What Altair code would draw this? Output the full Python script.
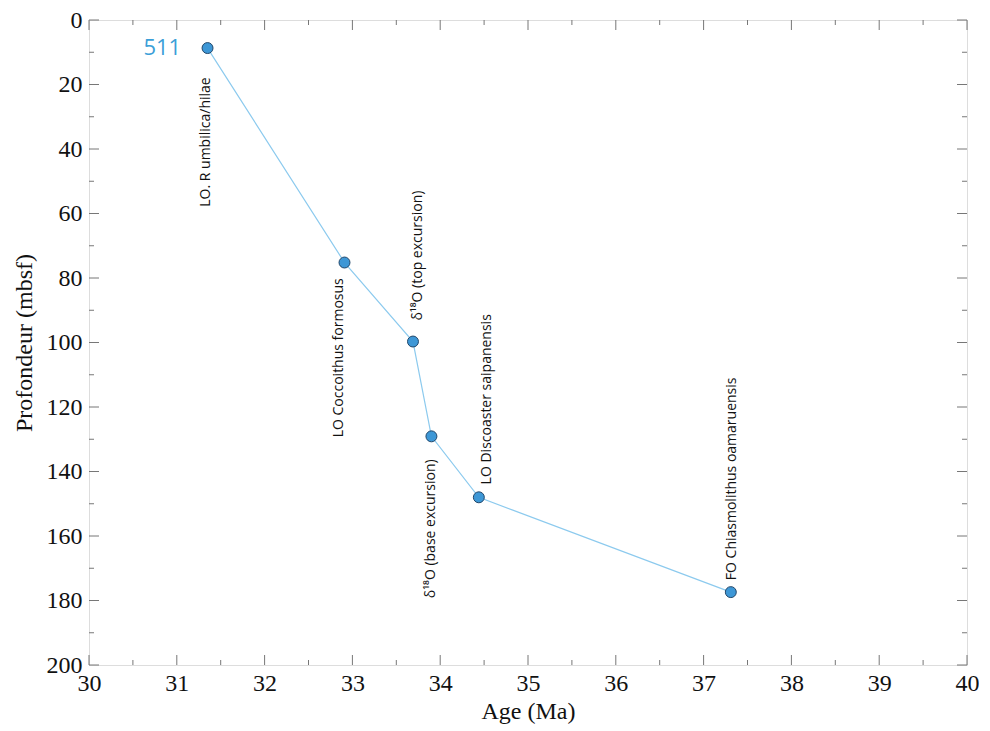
import altair as alt
import pandas as pd

# --- data ---
ages = [31.35, 32.91, 33.69, 33.90, 34.44, 37.31]
depths = [8.7, 75.2, 99.7, 129.1, 148.0, 177.4]

label_texts = [
    "LO. R umbilica/hilae",
    "LO Coccoithus formosus",
    "δ¹⁸O (top excursion)",
    "δ¹⁸O (base excursion)",
    "LO Discoaster saipanensis",
    "FO Chiasmolithus oamaruensis",
]
label_ages = [31.33, 32.85, 33.75, 33.90, 34.53, 37.32]
label_depths = [57.9, 129.4, 93.2, 179.3, 144.0, 173.7]

site_label = ["511"]
site_age = [31.05]
site_depth = [8.7]

x_major = list(range(30, 41))
x_minor = [30.5 + i for i in range(10)]
y_major = list(range(0, 201, 20))
y_minor = list(range(10, 200, 20))

W, H = 878, 645
MAJ, MIN = 10, 5

pts = pd.DataFrame({"age": ages, "depth": depths})
lbl = pd.DataFrame({"age": label_ages, "depth": label_depths, "text": label_texts})
site = pd.DataFrame({"age": site_age, "depth": site_depth, "text": site_label})

xs = alt.Scale(domain=[30, 40], nice=False, zero=False)
ys = alt.Scale(domain=[0, 200], nice=False, zero=False, reverse=True)

xaxis = alt.Axis(values=x_major, tickSize=0, domain=False, grid=False, format="d",
                 labelFont="Liberation Serif", labelFontSize=24, labelColor="#111",
                 labelPadding=6, labelFlush=False, labelOverlap=False,
                 titleFont="Liberation Serif", titleFontSize=24, titleFontWeight="normal",
                 titleColor="#111", titlePadding=4)
yaxis = alt.Axis(values=y_major, tickSize=0, domain=False, grid=False, format="d",
                 labelFont="Liberation Serif", labelFontSize=24, labelColor="#111",
                 labelPadding=7, labelFlush=False, labelOverlap=False,
                 titleFont="Liberation Serif", titleFontSize=24, titleFontWeight="normal",
                 titleColor="#111", titlePadding=10)

X = alt.X("age:Q", scale=xs, axis=xaxis, title="Age (Ma)")
Y = alt.Y("depth:Q", scale=ys, axis=yaxis, title="Profondeur (mbsf)")

line = alt.Chart(pts).mark_line(color="#8ccaee", strokeWidth=1.2).encode(x=X, y=Y)
points = alt.Chart(pts).mark_circle(size=120, color="#3d97d6", stroke="#22476a",
                                    strokeWidth=1, opacity=1).encode(x=X, y=Y)
labels = alt.Chart(lbl).mark_text(angle=270, align="left", baseline="middle",
                                  font="Open Sans", fontSize=14, color="#111").encode(
    x=X, y=Y, text="text:N")
site_txt = alt.Chart(site).mark_text(align="right", baseline="middle", font="Open Sans",
                                     fontSize=22, color="#3b9fd8").encode(x=X, y=Y, text="text:N")

tick_color = "#777"
def xticks(vals, length):
    d = pd.DataFrame({"age": vals})
    bottom = alt.Chart(d).mark_rule(color=tick_color, strokeWidth=1).encode(
        x=X, y=alt.value(H), y2=alt.value(H - length))
    top = alt.Chart(d).mark_rule(color=tick_color, strokeWidth=1).encode(
        x=X, y=alt.value(0), y2=alt.value(length))
    return [bottom, top]

def yticks(vals, length):
    d = pd.DataFrame({"depth": vals})
    left = alt.Chart(d).mark_rule(color=tick_color, strokeWidth=1).encode(
        y=Y, x=alt.value(0), x2=alt.value(length))
    right = alt.Chart(d).mark_rule(color=tick_color, strokeWidth=1).encode(
        y=Y, x=alt.value(W), x2=alt.value(W - length))
    return [left, right]

layers = (xticks(x_major, MAJ) + xticks(x_minor, MIN) +
          yticks(y_major, MAJ) + yticks(y_minor, MIN) +
          [line, points, labels, site_txt])

chart = alt.layer(*layers).properties(
    width=W, height=H, padding={"left": 4, "top": 0, "right": 0, "bottom": 1}
).configure_view(stroke="#222", strokeWidth=1.5).configure(background="white")

chart.save("out.html", embed_options={"renderer": "svg", "actions": False})
